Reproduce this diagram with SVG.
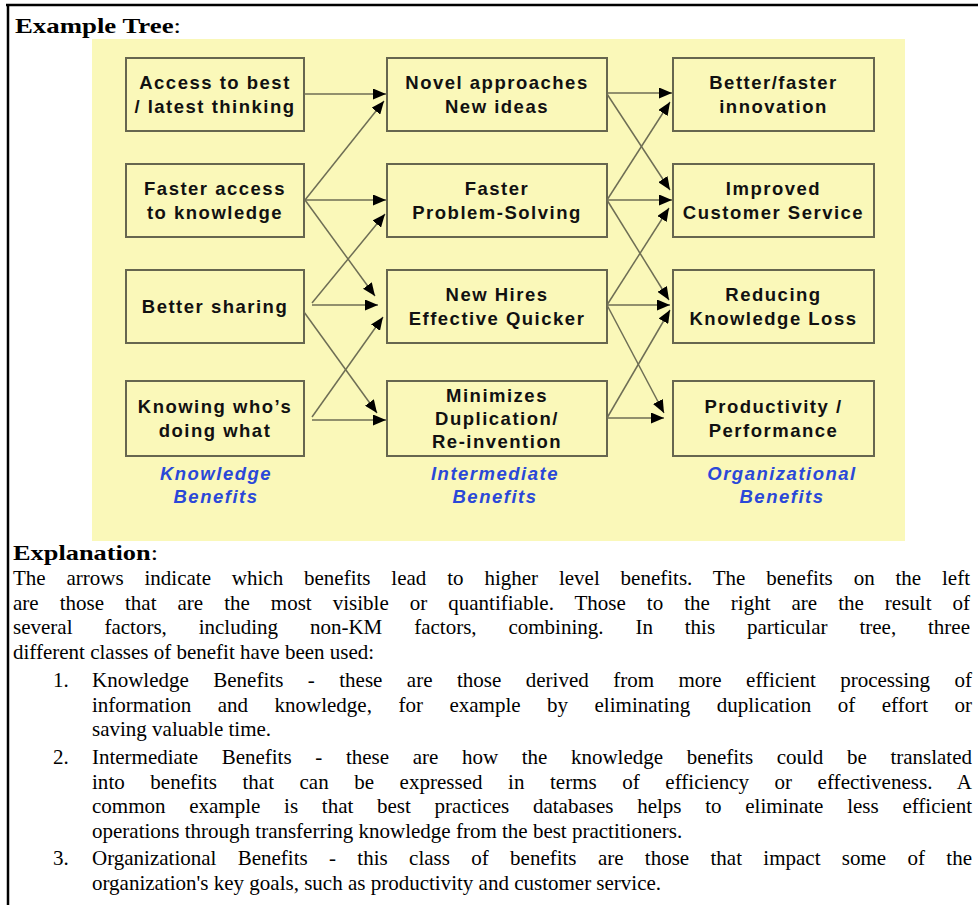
<svg xmlns="http://www.w3.org/2000/svg" width="978" height="905" viewBox="0 0 978 905">
<defs>
<style>
.frame{stroke:#000;stroke-width:2.5;fill:none}
.panel{fill:#FAF8B9;stroke:none}
.box{fill:#FAF8B9;stroke:#66664f;stroke-width:2}
.bt{font-family:"Liberation Sans",Arial,sans-serif;font-weight:bold;font-size:18.5px;letter-spacing:1.5px;fill:#111;text-anchor:middle}
.lbl{font-family:"Liberation Sans",Arial,sans-serif;font-weight:bold;font-style:italic;font-size:18.5px;letter-spacing:1.5px;fill:#2a48d8;text-anchor:middle}
.ttl{font-family:"Liberation Serif","Times New Roman",serif;font-size:22px;fill:#000}
.b{font-weight:bold}
.ex{font-family:"Liberation Serif","Times New Roman",serif;font-size:21px;fill:#000}
.conn line{stroke:#6e6e55;stroke-width:1.5;marker-end:url(#ah)}
</style>
<marker id="ah" markerUnits="userSpaceOnUse" markerWidth="13" markerHeight="11" viewBox="0 0 13 11" refX="13" refY="5.5" orient="auto">
<path d="M0,0 L13,5.5 L0,11 z" fill="#000"/>
</marker>
</defs>
<rect width="978" height="905" fill="#fff"/>
<line class="frame" x1="6" y1="5" x2="978" y2="5"/>
<line class="frame" x1="8" y1="4" x2="8" y2="905"/>
<text class="ttl" x="15" y="33" textLength="166" lengthAdjust="spacingAndGlyphs"><tspan class="b">Example Tree</tspan>:</text>
<rect class="panel" x="92" y="39" width="813" height="502"/>

<g id="n-access"><rect class="box" x="126" y="58" width="178" height="73"/><text class="bt" x="215" y="88.5">Access to best</text><text class="bt" x="215" y="112.5">/ latest thinking</text></g>
<g id="n-faster-access"><rect class="box" x="126" y="164" width="178" height="73"/><text class="bt" x="215" y="194.5">Faster access</text><text class="bt" x="215" y="218.5">to knowledge</text></g>
<g id="n-sharing"><rect class="box" x="126" y="270" width="178" height="73"/><text class="bt" x="215" y="313">Better sharing</text></g>
<g id="n-knowing"><rect class="box" x="126" y="381" width="178" height="75"/><text class="bt" x="215" y="413">Knowing who’s</text><text class="bt" x="215" y="437">doing what</text></g>

<g id="n-novel"><rect class="box" x="387" y="58" width="220" height="73"/><text class="bt" x="497" y="88.5">Novel approaches</text><text class="bt" x="497" y="112.5">New ideas</text></g>
<g id="n-problem"><rect class="box" x="387" y="164" width="220" height="73"/><text class="bt" x="497" y="194.5">Faster</text><text class="bt" x="497" y="218.5">Problem-Solving</text></g>
<g id="n-hires"><rect class="box" x="387" y="270" width="220" height="73"/><text class="bt" x="497" y="300.5">New Hires</text><text class="bt" x="497" y="324.5">Effective Quicker</text></g>
<g id="n-minimizes"><rect class="box" x="387" y="381" width="220" height="75"/><text class="bt" x="497" y="402">Minimizes</text><text class="bt" x="497" y="425">Duplication/</text><text class="bt" x="497" y="448">Re-invention</text></g>

<g id="n-innovation"><rect class="box" x="673" y="58" width="201" height="73"/><text class="bt" x="773.5" y="88.5">Better/faster</text><text class="bt" x="773.5" y="112.5">innovation</text></g>
<g id="n-customer"><rect class="box" x="673" y="164" width="201" height="73"/><text class="bt" x="773.5" y="194.5">Improved</text><text class="bt" x="773.5" y="218.5">Customer Service</text></g>
<g id="n-loss"><rect class="box" x="673" y="270" width="201" height="73"/><text class="bt" x="773.5" y="300.5">Reducing</text><text class="bt" x="773.5" y="324.5">Knowledge Loss</text></g>
<g id="n-productivity"><rect class="box" x="673" y="381" width="201" height="75"/><text class="bt" x="773.5" y="413">Productivity /</text><text class="bt" x="773.5" y="437">Performance</text></g>

<g id="labels">
<text class="lbl" x="216" y="480">Knowledge</text><text class="lbl" x="216" y="503">Benefits</text>
<text class="lbl" x="495" y="480">Intermediate</text><text class="lbl" x="495" y="503">Benefits</text>
<text class="lbl" x="782" y="480">Organizational</text><text class="lbl" x="782" y="503">Benefits</text>
</g>

<g id="connectors" class="conn">
<line x1="304" y1="94" x2="386" y2="94"/>
<line x1="305" y1="200" x2="384" y2="101"/>
<line x1="305" y1="200" x2="386" y2="200"/>
<line x1="305" y1="200" x2="375" y2="296"/>
<line x1="312" y1="303" x2="385" y2="214"/>
<line x1="312" y1="305" x2="378" y2="305"/>
<line x1="304" y1="312" x2="377" y2="413"/>
<line x1="312" y1="417" x2="383" y2="317"/>
<line x1="312" y1="420" x2="386" y2="420"/>

<line x1="607" y1="93" x2="672" y2="93"/>
<line x1="607" y1="94" x2="670" y2="190"/>
<line x1="607" y1="200" x2="670" y2="102"/>
<line x1="607" y1="200" x2="672" y2="200"/>
<line x1="607" y1="200" x2="669" y2="300"/>
<line x1="607" y1="305" x2="669" y2="208"/>
<line x1="607" y1="305" x2="670" y2="305"/>
<line x1="607" y1="305" x2="664" y2="413"/>
<line x1="607" y1="418" x2="670" y2="310"/>
<line x1="607" y1="418" x2="664" y2="418"/>
</g>

<g id="explanation" class="ex">
<text x="13" y="560" font-size="22" textLength="145" lengthAdjust="spacingAndGlyphs"><tspan class="b">Explanation</tspan>:</text>
<text x="13" y="585" word-spacing="15.6" textLength="957">The arrows indicate which benefits lead to higher level benefits. The benefits on the left</text>
<text x="13" y="609.5" word-spacing="15.7" textLength="957">are those that are the most visible or quantifiable. Those to the right are the result of</text>
<text x="13" y="634" word-spacing="26.6" textLength="957">several factors, including non-KM factors, combining. In this particular tree, three</text>
<text x="13" y="658.5">different classes of benefit have been used:</text>
<text x="53" y="687">1.</text>
<text x="92" y="687" word-spacing="19.2" textLength="880">Knowledge Benefits - these are those derived from more efficient processing of</text>
<text x="92" y="711.5" word-spacing="21.2" textLength="880">information and knowledge, for example by eliminating duplication of effort or</text>
<text x="92" y="736">saving valuable time.</text>
<text x="53" y="764">2.</text>
<text x="92" y="764" word-spacing="18.4" textLength="880">Intermediate Benefits - these are how the knowledge benefits could be translated</text>
<text x="92" y="788.5" word-spacing="20.2" textLength="880">into benefits that can be expressed in terms of efficiency or effectiveness. A</text>
<text x="92" y="813" word-spacing="18.5" textLength="880">common example is that best practices databases helps to eliminate less efficient</text>
<text x="92" y="837.5">operations through transferring knowledge from the best practitioners.</text>
<text x="53" y="865">3.</text>
<text x="92" y="865" word-spacing="16.1" textLength="880">Organizational Benefits - this class of benefits are those that impact some of the</text>
<text x="92" y="889.5">organization's key goals, such as productivity and customer service.</text>
</g>
</svg>
